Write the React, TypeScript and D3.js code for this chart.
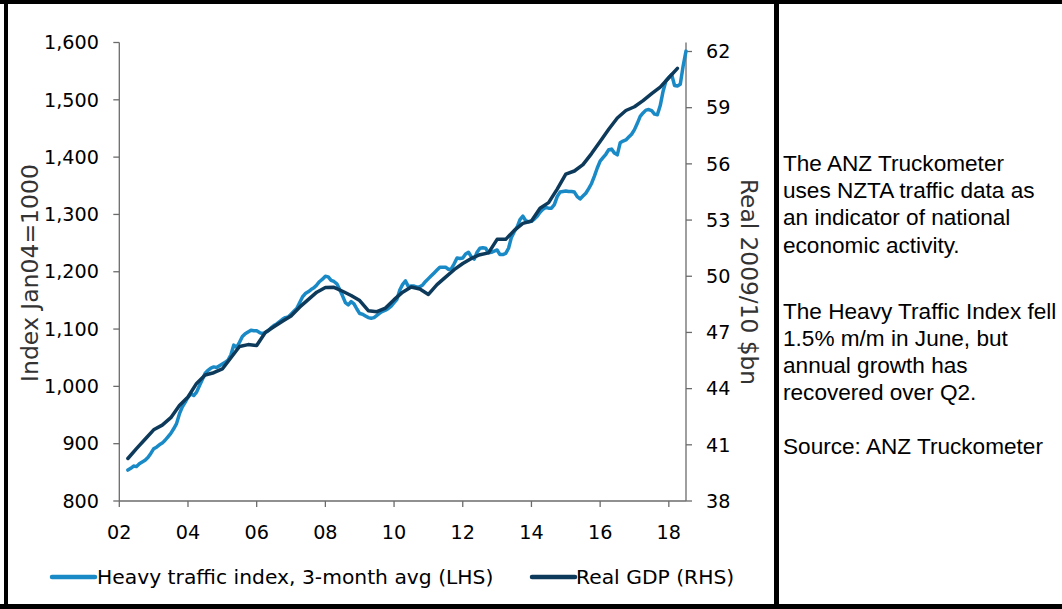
import React from "react";
import * as d3 from "d3";

// Heavy traffic index, 3-month avg (LHS), monthly from Mar 2002 to Jun 2018
const trafficStart = 2002 + 3 / 12;
const trafficValues = [
  854, 857, 861, 860, 865, 868, 871, 876, 883, 891, 894, 898,
  901, 906, 912, 918, 926, 935, 952, 964, 972, 981, 987, 984,
  990, 1001, 1012, 1023, 1028, 1032, 1034, 1033, 1036, 1039, 1042, 1046,
  1055, 1072, 1068, 1077, 1087, 1092, 1095, 1098, 1097, 1097, 1094, 1092,
  1094, 1097, 1102, 1106, 1109, 1113, 1117, 1120, 1121, 1126, 1131, 1136,
  1146, 1156, 1162, 1165, 1169, 1172, 1177, 1183, 1187, 1192, 1191, 1185,
  1183, 1179, 1169, 1158, 1146, 1142, 1148, 1144, 1135, 1127, 1126, 1123,
  1120, 1119, 1120, 1124, 1128, 1131, 1133, 1136, 1140, 1146, 1152, 1168,
  1178, 1184, 1174, 1175, 1175, 1173, 1174, 1177, 1183, 1188, 1193, 1198,
  1203, 1208, 1208, 1208, 1204, 1205, 1214, 1224, 1223, 1224, 1231, 1234,
  1226, 1222, 1234, 1241, 1242, 1241, 1233, 1234, 1236, 1238, 1230, 1230,
  1232, 1241, 1260, 1270, 1278, 1291, 1297, 1289, 1287, 1288, 1292, 1297,
  1304, 1309, 1312, 1311, 1311, 1317, 1331, 1339, 1340, 1341, 1340, 1340,
  1339, 1331, 1327, 1332, 1337, 1345, 1354, 1367, 1381, 1393, 1399, 1405,
  1413, 1414, 1407, 1404, 1425, 1428, 1430, 1435, 1440, 1448, 1459, 1471,
  1477, 1482, 1483, 1481, 1475, 1474, 1490, 1515, 1533, 1539, 1544, 1525,
  1524, 1527, 1559, 1585,
];

// Real GDP (RHS), $bn, quarterly from Mar 2002 to Mar 2018
const gdpStart = 2002 + 3 / 12;
const gdpValues = [
  40.27, 40.8, 41.3, 41.8, 42.05, 42.45, 43.1, 43.55,
  44.28, 44.73, 44.85, 45.05, 45.65, 46.25, 46.35, 46.3,
  47.0, 47.3, 47.6, 47.88, 48.35, 48.75, 49.15, 49.4,
  49.41, 49.2, 48.97, 48.7, 48.16, 48.11, 48.3, 48.75,
  49.15, 49.43, 49.32, 49.03, 49.55, 49.95, 50.35, 50.68,
  50.95, 51.15, 51.25, 51.97, 51.97, 52.45, 52.82, 52.95,
  53.63, 53.93, 54.65, 55.45, 55.62, 55.96, 56.55, 57.2,
  57.85, 58.45, 58.85, 59.05, 59.38, 59.75, 60.1, 60.6,
  61.1,
];

const xTicks = [2002, 2004, 2006, 2008, 2010, 2012, 2014, 2016, 2018];
const xTickLabels = ["02", "04", "06", "08", "10", "12", "14", "16", "18"];
const leftTicks = [800, 900, 1000, 1100, 1200, 1300, 1400, 1500, 1600];
const rightTicks = [38, 41, 44, 47, 50, 53, 56, 59, 62];

const legendLabels = ["Heavy traffic index, 3-month avg (LHS)", "Real GDP (RHS)"];
const leftTitle = "Index Jan04=1000";
const rightTitle = "Real 2009/10 $bn";
const sideText = [
  ["The ANZ Truckometer", "uses NZTA traffic data as", "an indicator of national", "economic activity."],
  ["The Heavy Traffic Index fell", "1.5% m/m in June, but", "annual growth has", "recovered over Q2."],
  ["Source: ANZ Truckometer"],
];

const LIGHT = "#1a8ac7";
const DARK = "#0d3a5a";
const AXIS = "#6b6b6b";
const FONT = "'DejaVu Sans', Verdana, sans-serif";

export default function App() {
  const x = d3.scaleLinear().domain([2002, 2018.5]).range([119.3, 686]);
  const yL = d3.scaleLinear().domain([800, 1600]).range([501, 42.5]);
  const yR = d3.scaleLinear().domain([38, 62]).range([501, 51.5]);

  const traffic = trafficValues.map((v, i) => ({ t: trafficStart + i / 12, v }));
  const gdp = gdpValues.map((v, i) => ({ t: gdpStart + i / 4, v }));

  const lineL = d3
    .line<{ t: number; v: number }>()
    .x((d) => x(d.t))
    .y((d) => yL(d.v));
  const lineR = d3
    .line<{ t: number; v: number }>()
    .x((d) => x(d.t))
    .y((d) => yR(d.v));

  const y0 = yL(800);
  const axisTop = yL(1600);

  const textLines: { s: string; y: number }[] = [];
  const paraStarts = [171, 318.5, 454];
  sideText.forEach((p, pi) => {
    p.forEach((s, li) => textLines.push({ s, y: paraStarts[pi] + li * 27.2 }));
  });

  return (
    <svg
      width={1062}
      height={609}
      style={{ position: "absolute", left: 0, top: 0, background: "#fff" }}
      fontFamily={FONT}
    >
      <rect x={0} y={0} width={1062} height={609} fill="#fff" />
      {/* axes */}
      <line x1={x(2002)} x2={x(2002)} y1={axisTop} y2={y0} stroke={AXIS} strokeWidth={1.3} />
      <line x1={x(2018.5)} x2={x(2018.5)} y1={axisTop} y2={y0} stroke={AXIS} strokeWidth={1.3} />
      <line x1={x(2002)} x2={x(2018.5)} y1={y0} y2={y0} stroke={AXIS} strokeWidth={1.3} />
      {leftTicks.map((t) => (
        <g key={"l" + t}>
          <line x1={x(2002) - 6} x2={x(2002)} y1={yL(t)} y2={yL(t)} stroke={AXIS} strokeWidth={1.3} />
          <text x={99} y={yL(t)} dy="0.35em" textAnchor="end" fontSize={19.2} fill="#000">
            {d3.format(",")(t)}
          </text>
        </g>
      ))}
      {rightTicks.map((t) => (
        <g key={"r" + t}>
          <line x1={x(2018.5)} x2={x(2018.5) + 6} y1={yR(t)} y2={yR(t)} stroke={AXIS} strokeWidth={1.3} />
          <text x={706} y={yR(t)} dy="0.35em" textAnchor="start" fontSize={19.2} fill="#000">
            {t}
          </text>
        </g>
      ))}
      {xTicks.map((t, i) => (
        <g key={"x" + t}>
          <line x1={x(t)} x2={x(t)} y1={y0} y2={y0 + 6} stroke={AXIS} strokeWidth={1.3} />
          <text x={x(t)} y={532} dy="0.35em" textAnchor="middle" fontSize={19.2} fill="#000">
            {xTickLabels[i]}
          </text>
        </g>
      ))}
      <text
        transform={`translate(30,273) rotate(-90)`}
        textAnchor="middle"
        dy="0.35em"
        fontSize={23.5}
        fill="#333"
      >
        {leftTitle}
      </text>
      <text
        transform={`translate(749,282) rotate(90)`}
        textAnchor="middle"
        dy="0.35em"
        fontSize={23.3}
        fill="#333"
      >
        {rightTitle}
      </text>

      {/* series */}
      <path d={lineL(traffic) || ""} fill="none" stroke={LIGHT} strokeWidth={3.5} strokeLinejoin="round" strokeLinecap="round" />
      <path d={lineR(gdp) || ""} fill="none" stroke={DARK} strokeWidth={3.5} strokeLinejoin="round" strokeLinecap="round" />

      {/* legend */}
      <line x1={52} x2={95} y1={577} y2={577} stroke={LIGHT} strokeWidth={4.5} strokeLinecap="round" />
      <text x={97} y={577} dy="0.35em" fontSize={20.3} fill="#000">
        {legendLabels[0]}
      </text>
      <line x1={532} x2={575} y1={577} y2={577} stroke={DARK} strokeWidth={4.5} strokeLinecap="round" />
      <text x={576} y={577} dy="0.35em" fontSize={20.3} fill="#000">
        {legendLabels[1]}
      </text>

      {/* side text */}
      {textLines.map((l, i) => (
        <text key={"s" + i} x={783} y={l.y} fontFamily="'Liberation Sans', Arial, sans-serif" fontSize={22.6} fill="#000">
          {l.s}
        </text>
      ))}

      {/* frame */}
      <rect x={0} y={0} width={1062} height={4} fill="#000" />
      <rect x={0} y={604} width={1062} height={5} fill="#000" />
      <rect x={4} y={0} width={4} height={609} fill="#000" />
      <rect x={774} y={0} width={5} height={609} fill="#000" />
    </svg>
  );
}
